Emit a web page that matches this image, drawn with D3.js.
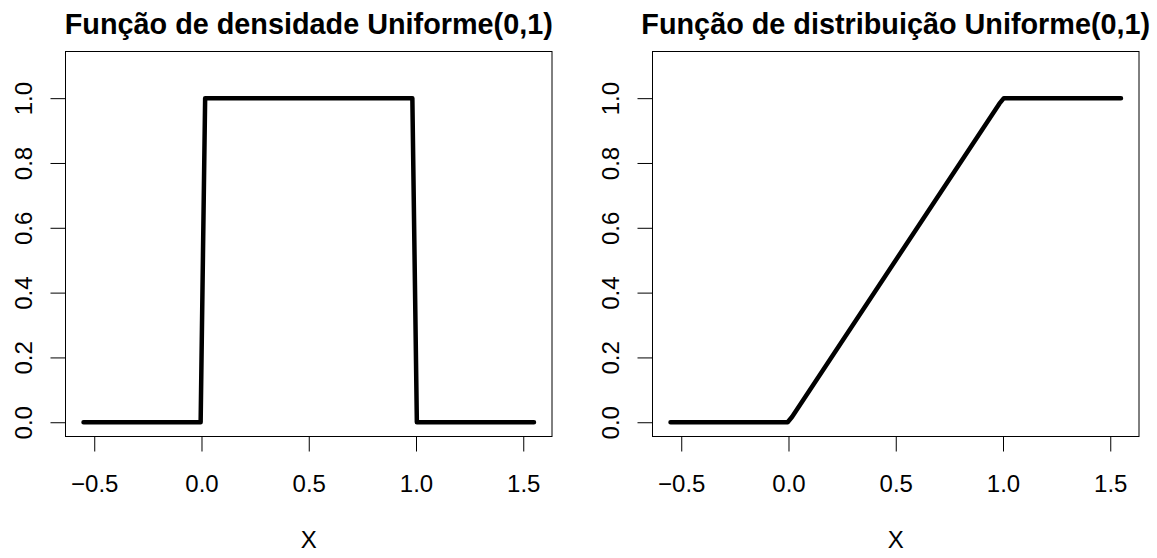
<!DOCTYPE html>
<html>
<head>
<meta charset="utf-8">
<script src="https://cdn.jsdelivr.net/npm/d3@7"></script>
<style>
  html, body { margin: 0; padding: 0; background: #fff; }
  svg { display: block; }
  text { font-family: "Liberation Sans", Arial, Helvetica, sans-serif; fill: #000; }
</style>
</head>
<body>
<svg id="chart" width="1157" height="558"></svg>
<script>
// Uniform(0,1) density: breakpoints of the plotted polyline
const densX = [-0.55, -0.004, 0.017, 0.983, 1.004, 1.55];
const densY = [0, 0, 1, 1, 0, 0];

// Uniform(0,1) distribution function: breakpoints of the plotted polyline
const cdfX = [-0.55, -0.004, 0.017, 0.983, 1.004, 1.55];
const cdfY = [0, 0, 0.017, 0.983, 1, 1];

const xTicks = [-0.5, 0, 0.5, 1, 1.5];
const yTicks = [0, 0.2, 0.4, 0.6, 0.8, 1.0];
const yLimits = [0, 1.1];

const titles = ["Função de densidade Uniforme(0,1)", "Função de distribuição Uniforme(0,1)"];
const xLabel = "X";

const svg = d3.select("#chart");

// extend a range by 4% on each side, like R's default axis style
function extend(lo, hi) {
  const d = (hi - lo) * 0.04;
  return [lo - d, hi + d];
}

const fmt = v => d3.format(".1f")(v).replace("-", "\u2212");

function panel(left, right, xs, ys, title) {
  const top = 51.5, bottom = 436.5;
  const x = d3.scaleLinear().domain(extend(d3.min(xs), d3.max(xs))).range([left, right]);
  const y = d3.scaleLinear().domain(extend(yLimits[0], yLimits[1])).range([bottom, top]);
  const g = svg.append("g");

  // plot frame
  g.append("rect")
    .attr("x", left).attr("y", top)
    .attr("width", right - left).attr("height", bottom - top)
    .attr("fill", "none").attr("stroke", "#000").attr("stroke-width", 1);

  // x axis
  const xa = g.append("g").attr("transform", `translate(0,${bottom})`)
    .call(d3.axisBottom(x).tickValues(xTicks).tickSize(15).tickPadding(0).tickFormat(fmt));
  xa.select(".domain").remove();
  xa.selectAll(".tick line").attr("stroke", "#000").attr("stroke-width", 1);
  xa.selectAll(".tick text")
    .attr("y", 55).attr("dy", null)
    .style("font-size", "24px")
    .style("font-family", "'Liberation Sans', Arial, sans-serif")
    .attr("fill", "#000");

  // y axis, labels rotated parallel to the axis
  const ya = g.append("g").attr("transform", `translate(${left},0)`)
    .call(d3.axisLeft(y).tickValues(yTicks).tickSize(15).tickFormat(fmt));
  ya.select(".domain").remove();
  ya.selectAll(".tick line").attr("stroke", "#000").attr("stroke-width", 1);
  ya.selectAll(".tick text")
    .attr("x", null).attr("dy", null)
    .attr("text-anchor", "middle")
    .attr("transform", "translate(-33.5,0) rotate(-90)")
    .style("font-size", "24px")
    .style("font-family", "'Liberation Sans', Arial, sans-serif")
    .attr("fill", "#000");

  // curve
  const pts = xs.map((v, i) => [v, ys[i]]);
  g.append("path")
    .datum(pts)
    .attr("fill", "none")
    .attr("stroke", "#000")
    .attr("stroke-width", 4.5)
    .attr("stroke-linejoin", "round")
    .attr("stroke-linecap", "round")
    .attr("d", d3.line().x(d => x(d[0])).y(d => y(d[1])));

  // title
  g.append("text")
    .attr("x", (left + right) / 2).attr("y", 34)
    .attr("text-anchor", "middle")
    .style("font-size", "28.8px").style("font-weight", "bold")
    .text(title);

  // x label
  g.append("text")
    .attr("x", (left + right) / 2).attr("y", 548)
    .attr("text-anchor", "middle")
    .style("font-size", "24px")
    .text(xLabel);
}

panel(65.5, 552, densX, densY, titles[0]);
panel(652.5, 1139, cdfX, cdfY, titles[1]);
</script>
</body>
</html>
